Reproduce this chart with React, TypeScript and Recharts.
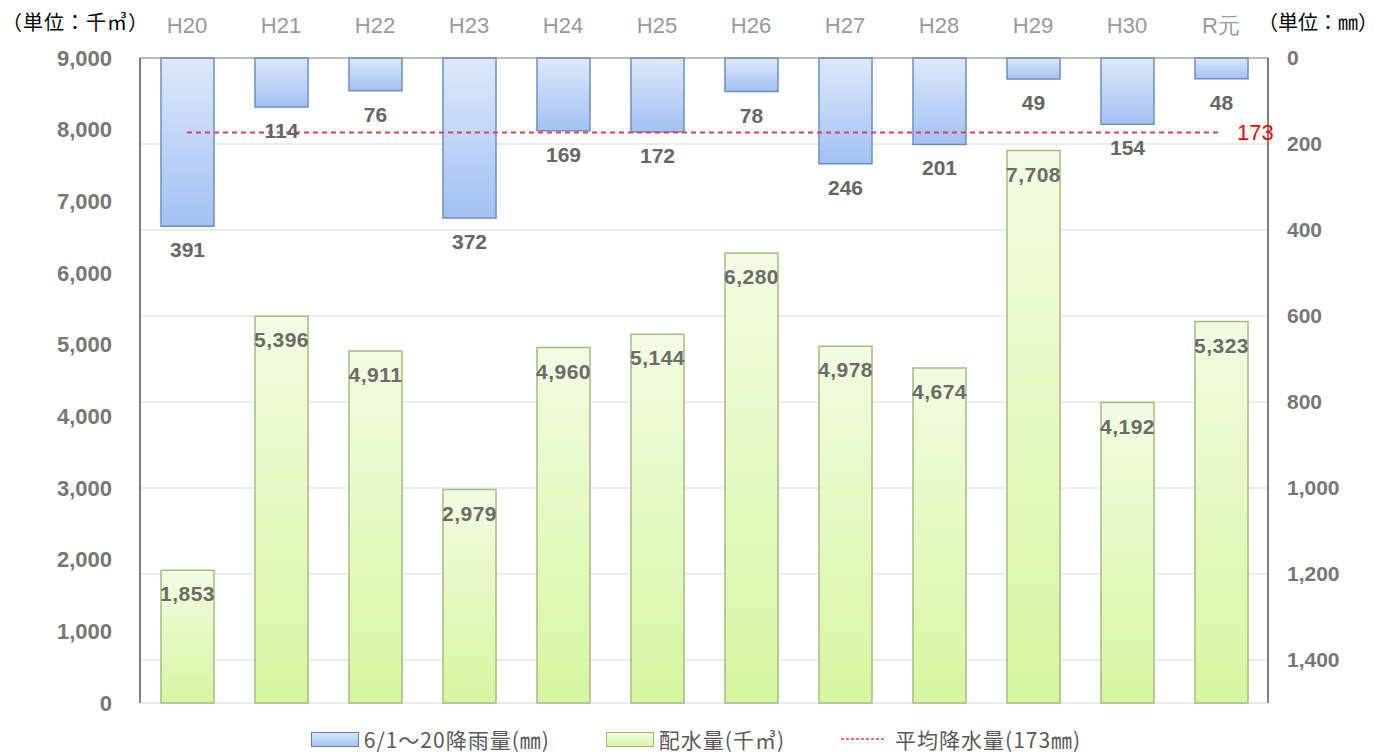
import React from 'react';
import { ComposedChart, Bar, Line, XAxis, YAxis, CartesianGrid, Legend } from 'recharts';

const years = ['H20', 'H21', 'H22', 'H23', 'H24', 'H25', 'H26', 'H27', 'H28', 'H29', 'H30', 'R元'];
const rainfall = [391, 114, 76, 372, 169, 172, 78, 246, 201, 49, 154, 48];
const supply = [1853, 5396, 4911, 2979, 4960, 5144, 6280, 4978, 4674, 7708, 4192, 5323];
const avgRain = 173;
const leftTicks = [0, 1000, 2000, 3000, 4000, 5000, 6000, 7000, 8000, 9000];
const rightTicks = [0, 200, 400, 600, 800, 1000, 1200, 1400];

const rows = years.map((y, i) => ({ year: y, rain: rainfall[i], supply: supply[i], avg: avgRain }));

const JP = '"Noto Sans CJK JP", "Noto Sans", sans-serif';
const NUM = '"Liberation Sans", Arial, sans-serif';

const fmt = (v: number) => v.toLocaleString('en-US');

// 降雨量ラベル：棒の下端の下
const RainLabel = (p: any) => {
  const bottom = Math.max(p.y, p.y + p.height);
  return (
    <text x={p.x + p.width / 2} y={bottom + 31} textAnchor="middle" fill="#666" fontSize={21} fontWeight="bold" fontFamily={NUM}>
      {fmt(p.value)}
    </text>
  );
};

// 配水量ラベル：棒の上端の内側
const SupplyLabel = (p: any) => {
  const top = Math.min(p.y, p.y + p.height);
  return (
    <text x={p.x + p.width / 2} y={top + 31} textAnchor="middle" fill="#6b6b6b" fontSize={21} fontWeight="bold" fontFamily={NUM} letterSpacing={0.5}>
      {fmt(p.value)}
    </text>
  );
};

const YearTick = (p: any) => (
  <text x={p.x} y={33} textAnchor="middle" fill="#999" fontSize={22} fontFamily={NUM}>
    {p.payload.value}
  </text>
);

const AvgDot = (p: any) => {
  if (p.index !== years.length - 1) return <g key={`d${p.index}`} />;
  return (
    <text key="avg-label" x={p.cx + 16} y={p.cy + 8} fill="#ff0000" fontSize={22} fontFamily={NUM}>
      {avgRain}
    </text>
  );
};

const legendItems = [
  { label: '6/1～20降雨量(㎜)', type: 'blue' },
  { label: '配水量(千㎥)', type: 'green' },
  { label: '平均降水量(173㎜)', type: 'line' },
];

const LegendContent = () => (
  <div style={{ display: 'flex', justifyContent: 'center', alignItems: 'center', height: 26, gap: 56 }}>
    {legendItems.map((it) => (
      <div key={it.label} style={{ display: 'flex', alignItems: 'center' }}>
        {it.type === 'line' ? (
          <svg width={44} height={14} style={{ marginRight: 10 }}>
            <line x1={0} y1={7} x2={44} y2={7} stroke="#ff3b3b" strokeWidth={1.5} strokeDasharray="3 2" />
          </svg>
        ) : (
          <div
            style={{
              width: 46,
              height: 13,
              marginRight: 5,
              border: it.type === 'blue' ? '1px solid #5b7fbf' : '1px solid #9fb86e',
              background: it.type === 'blue' ? 'linear-gradient(#dbe7fb, #a7c4f3)' : 'linear-gradient(#f4fde6, #d8f6a4)',
            }}
          />
        )}
        <span style={{ fontFamily: JP, fontSize: 21, letterSpacing: 1, color: '#595959' }}>{it.label}</span>
      </div>
    ))}
  </div>
);

export default function App() {
  return (
    <div style={{ position: 'absolute', left: 0, top: 0, width: 1392, height: 754, background: '#fff' }}>
      <div style={{ position: 'absolute', left: 2, top: 7, fontFamily: JP, fontSize: 20, letterSpacing: 1, color: '#000', zIndex: 2 }}>
        （単位：千㎥）
      </div>
      <div style={{ position: 'absolute', left: 1258, top: 7, fontFamily: JP, fontSize: 20, letterSpacing: 0, color: '#000', zIndex: 2 }}>
        （単位：㎜）
      </div>
      <ComposedChart width={1392} height={754} data={rows} margin={{ top: 0, right: 0, left: 0, bottom: 25 }}>
        <defs>
          <linearGradient id="gBlue" x1="0" y1="0" x2="0" y2="1">
            <stop offset="0%" stopColor="#dde9fb" />
            <stop offset="100%" stopColor="#a3c1f3" />
          </linearGradient>
          <linearGradient id="gGreen" x1="0" y1="0" x2="0" y2="1">
            <stop offset="0%" stopColor="#f3fce2" />
            <stop offset="100%" stopColor="#d6f6a0" />
          </linearGradient>
        </defs>
        <CartesianGrid xAxisId="top" yAxisId="right" vertical={false} stroke="#d9d9d9" />
        <XAxis
          xAxisId="top"
          dataKey="year"
          orientation="top"
          height={58}
          tickLine={false}
          axisLine={{ stroke: '#8c8c8c' }}
          tick={<YearTick />}
          interval={0}
        />
        <XAxis xAxisId="bottom" dataKey="year" height={0} tick={false} tickLine={false} axisLine={{ stroke: '#595959' }} />
        <YAxis
          yAxisId="left"
          width={140}
          domain={[0, 9000]}
          ticks={leftTicks}
          tickFormatter={fmt}
          tickLine={false}
          tickSize={0}
          tickMargin={28}
          axisLine={{ stroke: '#000' }}
          tick={{ fill: '#777', fontSize: 22, fontWeight: 'bold', fontFamily: NUM }}
        />
        <YAxis
          yAxisId="right"
          orientation="right"
          width={124}
          domain={[0, 1500]}
          reversed
          ticks={rightTicks}
          tickFormatter={fmt}
          tickLine={false}
          tickSize={0}
          tickMargin={19}
          axisLine={{ stroke: '#000' }}
          tick={{ fill: '#777', fontSize: 21, fontWeight: 'bold', fontFamily: NUM, textAnchor: 'start' }}
        />
        <Bar
          xAxisId="bottom"
          yAxisId="left"
          dataKey="supply"
          name="配水量(千㎥)"
          barSize={53}
          fill="url(#gGreen)"
          stroke="#a8bb80"
          strokeWidth={1.5}
          isAnimationActive={false}
          label={<SupplyLabel />}
        />
        <Bar
          xAxisId="top"
          yAxisId="right"
          dataKey="rain"
          name="6/1～20降雨量(㎜)"
          barSize={53}
          fill="url(#gBlue)"
          stroke="#6d8fc4"
          strokeWidth={1.5}
          isAnimationActive={false}
          label={<RainLabel />}
        />
        <Line
          xAxisId="top"
          yAxisId="right"
          dataKey="avg"
          name="平均降水量(173㎜)"
          stroke="#e0404f"
          strokeWidth={2}
          strokeDasharray="5 4"
          dot={AvgDot}
          activeDot={false}
          isAnimationActive={false}
        />
        <Legend verticalAlign="bottom" content={<LegendContent />} wrapperStyle={{ height: 26, bottom: 2 }} />
      </ComposedChart>
    </div>
  );
}
